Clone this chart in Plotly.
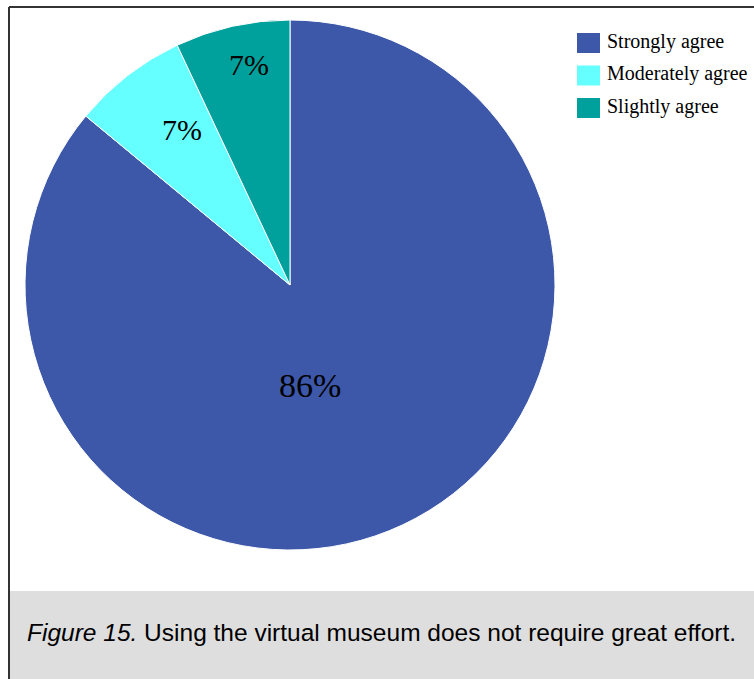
import math
import plotly.graph_objects as go

labels = ["Strongly agree", "Moderately agree", "Slightly agree"]
values = [86, 7, 7]
colors = ["#3D57A9", "#66FFFF", "#00A19C"]
caption_italic = "Figure 15."
caption_text = " Using the virtual museum does not require great effort."

W, H = 754, 679
CX, CY, R = 290, 285, 265             # pie centre / radius in px (layout)
label_rfrac = [0.385, 0.713, 0.845]   # radial placement of percentage labels
label_dang = [14.0, 3.0, 2.0]         # angular nudge of labels (degrees)
label_size = [34, 30, 30]

fig = go.Figure()
fig.add_trace(go.Pie(
    labels=labels, values=values, sort=False, direction="clockwise", rotation=0,
    marker=dict(colors=colors, line=dict(color="white", width=1)),
    textinfo="none",
    domain=dict(x=[(CX - R) / W, (CX + R) / W], y=[1 - (CY + R) / H, 1 - (CY - R) / H]),
    hoverinfo="label+percent", showlegend=False,
))

annotations = []
shapes = [
    dict(type="rect", xref="paper", yref="paper",
         x0=10 / W, x1=1.02, y0=-0.02, y1=1 - 591 / H,
         fillcolor="#DEDEDE", line=dict(width=0), layer="below"),
    dict(type="line", xref="paper", yref="paper",
         x0=9 / W, x1=9 / W, y0=-0.02, y1=1 - 7 / H,
         line=dict(color="#333333", width=2)),
    dict(type="line", xref="paper", yref="paper",
         x0=9 / W, x1=1.02, y0=1 - 7 / H, y1=1 - 7 / H,
         line=dict(color="#333333", width=2)),
]

# percentage labels placed from the slice angles
total = sum(values)
cum = 0
for i, v in enumerate(values):
    mid = (cum + v / 2) / total * 2 * math.pi + math.radians(label_dang[i])
    cum += v
    r = R * label_rfrac[i]
    px = CX + r * math.sin(mid)
    py = CY - r * math.cos(mid)
    annotations.append(dict(
        xref="paper", yref="paper", x=px / W, y=1 - py / H,
        xanchor="center", yanchor="middle", showarrow=False,
        text=f"{round(v / total * 100)}%",
        font=dict(family="Liberation Serif", size=label_size[i], color="black")))

# legend (square swatches + serif text)
LX, LY, STEP = 577, 43, 32.5
for i, (lab, col) in enumerate(zip(labels, colors)):
    yc = LY + i * STEP
    shapes.append(dict(type="rect", xref="paper", yref="paper",
                       x0=LX / W, x1=(LX + 23) / W,
                       y0=1 - (yc + 10) / H, y1=1 - (yc - 10) / H,
                       fillcolor=col, line=dict(color=col, width=0)))
    annotations.append(dict(xref="paper", yref="paper", x=(LX + 28) / W, y=1 - (yc - 2) / H,
                            xanchor="left", yanchor="middle", showarrow=False, text=lab,
                            font=dict(family="Liberation Serif", size=20, color="black")))

annotations.append(dict(
    xref="paper", yref="paper", x=382 / W, y=1 - 632 / H,
    xanchor="center", yanchor="middle", showarrow=False,
    text="<i>" + caption_italic + "</i>" + caption_text,
    font=dict(family="Liberation Sans", size=24.5, color="black")))

fig.update_layout(
    width=W, height=H,
    margin=dict(l=0, r=0, t=0, b=0),
    paper_bgcolor="white", plot_bgcolor="white",
    showlegend=False,
    shapes=shapes, annotations=annotations,
)

fig.write_html("out.html")
